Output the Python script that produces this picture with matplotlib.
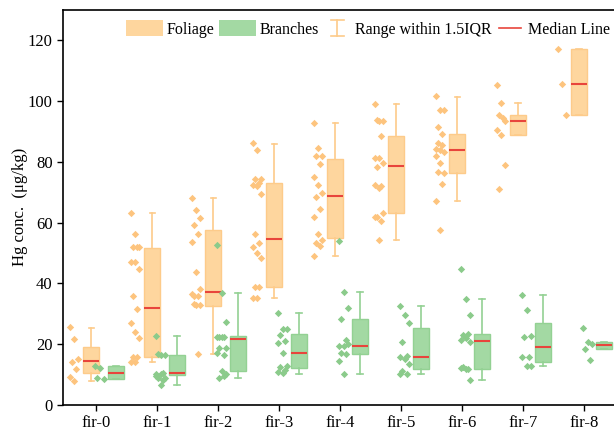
"""
Hg concentration in fir foliage and branches, grouped by tree class.
Box = IQR, whiskers = range within 1.5 IQR, red line = median,
raw points jittered to the left of each box.
"""

import matplotlib
matplotlib.use("Agg")
import matplotlib.pyplot as plt
from matplotlib.patches import Patch
from matplotlib.lines import Line2D
from matplotlib.legend_handler import HandlerBase

plt.rcParams["font.family"] = ["Liberation Serif", "DejaVu Serif"]

groups = ["fir-0", "fir-1", "fir-2", "fir-3", "fir-4",
          "fir-5", "fir-6", "fir-7", "fir-8"]

# box stats (ug/kg)
fol_q1 = [10.3, 15.6, 32.6, 38.6, 54.8, 63.0, 76.4, 88.9, 95.3]
fol_med = [14.4, 31.8, 37.0, 54.5, 68.9, 78.5, 83.8, 93.4, 105.5]
fol_q3 = [18.9, 51.5, 57.6, 72.9, 80.8, 88.4, 89.1, 95.5, 117.0]
fol_lo = [7.8, 14.0, 16.7, 35.0, 49.1, 54.2, 67.2, 88.9, 95.3]
fol_hi = [25.4, 63.1, 68.0, 86.0, 92.9, 99.0, 101.4, 99.4, 117.0]

br_q1 = [8.4, 9.9, 11.1, 12.0, 16.6, 11.7, 11.9, 14.0, 18.4]
br_med = [10.5, 10.3, 21.5, 17.1, 19.3, 15.6, 21.1, 18.9, 19.5]
br_q3 = [12.7, 16.2, 22.7, 23.2, 28.2, 25.3, 23.2, 26.8, 20.6]
br_lo = [8.4, 6.5, 8.7, 10.0, 10.1, 10.1, 8.1, 12.7, 18.4]
br_hi = [12.7, 22.7, 36.7, 30.1, 37.0, 32.6, 34.7, 36.0, 20.6]

# individual samples
fol_pts = [
    [25.7, 21.5, 15.1, 14.0, 11.8, 9.2, 7.9],
    [63.3, 56.2, 52.0, 52.0, 51.8, 47.0, 47.0, 44.6, 35.8, 31.5, 26.8,
     24.1, 22.1, 15.8, 15.8, 14.1, 14.2],
    [68.2, 64.1, 61.6, 59.2, 56.2, 53.7, 43.6, 38.0, 35.9, 35.9, 36.4,
     32.9, 32.9, 33.1, 16.7],
    [86.3, 83.8, 74.5, 74.2, 72.9, 72.5, 72.0, 69.4, 56.1, 53.3, 52.0,
     49.8, 48.2, 38.6, 38.6, 35.0, 35.0],
    [92.9, 84.7, 81.9, 81.9, 79.4, 75.1, 72.3, 69.6, 68.5, 64.3, 61.9,
     56.1, 54.2, 53.1, 52.2, 49.1],
    [99.0, 93.4, 93.4, 93.9, 88.4, 81.4, 81.4, 79.5, 78.4, 72.0, 72.5,
     71.4, 63.2, 61.9, 60.6, 61.9, 54.2],
    [101.6, 97.0, 97.0, 91.3, 89.1, 84.3, 83.8, 83.2, 86.3, 85.5, 81.9,
     79.5, 76.2, 76.5, 72.6, 67.2, 57.5],
    [105.3, 99.4, 93.5, 95.3, 94.4, 90.6, 88.9, 78.8, 70.9],
    [117.0, 105.5, 95.3],
]
br_pts = [
    [12.7, 12.0, 8.5, 8.9],
    [22.7, 16.2, 16.2, 16.8, 10.3, 10.1, 10.1, 8.9, 8.9, 8.1, 9.6, 6.5],
    [52.6, 36.7, 27.1, 22.2, 22.2, 22.4, 22.4, 18.8, 18.8, 16.2, 16.9,
     11.2, 10.1, 8.7, 9.5],
    [30.1, 25.0, 24.8, 22.9, 21.1, 20.2, 17.1, 12.7, 12.5, 11.4, 10.8, 10.3],
    [54.0, 37.2, 31.7, 28.1, 21.3, 19.3, 19.3, 19.9, 16.9, 16.7, 14.5, 10.1],
    [32.6, 29.7, 27.0, 20.6, 16.0, 15.6, 14.9, 13.3, 11.1, 10.1, 10.1],
    [44.6, 34.7, 29.5, 22.9, 23.2, 21.3, 21.8, 20.5, 12.5, 11.9, 12.2,
     11.9, 8.1],
    [36.0, 31.2, 22.6, 22.2, 15.8, 15.6, 12.7, 12.7],
    [25.2, 20.6, 20.0, 18.5, 14.6],
]

FOL_FILL = "#FED69E"
FOL_EDGE = "#FDCB8A"
FOL_DOT = "#FDC47E"
BR_FILL = "#A3D9A3"
BR_EDGE = "#93D193"
BR_DOT = "#8BCB8B"
MED_RED = "#E8453C"

JITTER = [-0.07, 0.0, 0.07, -0.035, 0.035]


class RangeHandler(HandlerBase):
    """Vertical 'I' symbol for the whisker entry."""
    def create_artists(self, legend, orig_handle, xdescent, ydescent,
                       width, height, fontsize, trans):
        cx = width / 2 - xdescent
        y0, y1 = -ydescent, height - ydescent
        cap = 4.5
        kw = dict(color=orig_handle.get_color(), lw=1.2, transform=trans)
        return [Line2D([cx, cx], [y0, y1], **kw),
                Line2D([cx - cap, cx + cap], [y0, y0], **kw),
                Line2D([cx - cap, cx + cap], [y1, y1], **kw)]


class ShortLineHandler(HandlerBase):
    def create_artists(self, legend, orig_handle, xdescent, ydescent,
                       width, height, fontsize, trans):
        cy = height / 2 - ydescent
        half = width * 0.38
        cx = width / 2 - xdescent
        return [Line2D([cx - half, cx + half], [cy, cy],
                       color=orig_handle.get_color(), lw=1.2, transform=trans)]


def stats(q1, med, q3, lo, hi):
    return [dict(q1=a, med=b, q3=c, whislo=d, whishi=e, fliers=[])
            for a, b, c, d, e in zip(q1, med, q3, lo, hi)]


def draw_set(ax, st, pos, fill, edge, width=0.27):
    ax.bxp(st, positions=pos, widths=width, patch_artist=True,
           showfliers=False, capwidths=width * 0.33,
           boxprops=dict(facecolor=fill, edgecolor=edge, lw=1.0),
           whiskerprops=dict(color=edge, lw=1.2),
           capprops=dict(color=edge, lw=1.2),
           medianprops=dict(color=MED_RED, lw=1.5))


def draw_points(ax, pts, center, color):
    for i, vals in enumerate(pts):
        xs = [i + center + JITTER[k % len(JITTER)] for k in range(len(vals))]
        ax.scatter(xs, vals, s=14, marker="D", color=color, lw=0, zorder=3)


fig = plt.figure(figsize=(6.14, 4.33), dpi=100)
ax = fig.add_axes([0.1026, 0.0654, 0.908, 0.9115])

x = list(range(len(groups)))
draw_set(ax, stats(fol_q1, fol_med, fol_q3, fol_lo, fol_hi),
         [i - 0.077 for i in x], FOL_FILL, FOL_EDGE)
draw_set(ax, stats(br_q1, br_med, br_q3, br_lo, br_hi),
         [i + 0.33 for i in x], BR_FILL, BR_EDGE)
draw_points(ax, fol_pts, -0.36, FOL_DOT)
draw_points(ax, br_pts, 0.06, BR_DOT)

ax.set_xlim(-0.54, 8.6)
ax.set_ylim(0, 130)
ax.set_xticks(x)
ax.set_xticklabels(groups, fontsize=12)
ax.set_yticks(range(0, 121, 20))
ax.tick_params(axis="y", labelsize=12, direction="out", length=4, width=1)
ax.tick_params(axis="x", direction="out", length=4, width=1)
for s in ax.spines.values():
    s.set_linewidth(1.2)
ax.set_ylabel("Hg conc.  (\u03bcg/kg)", fontsize=12, labelpad=0)

# legend split in two so the patch entries can have wider handles
row_y = 1 - 29 / 433
common = dict(frameon=False, fontsize=11.5, loc="center left",
              borderpad=0, borderaxespad=0, handleheight=1.1)

leg_a = fig.legend([Patch(facecolor=FOL_FILL, edgecolor="none"),
                    Patch(facecolor=BR_FILL, edgecolor="none")],
                   ["Foliage", "Branches"], ncol=2,
                   bbox_to_anchor=(126 / 614, row_y),
                   handlelength=2.3, handletextpad=0.25, columnspacing=0.3,
                   **common)

rng_handle = Line2D([], [], color=FOL_EDGE)
med_handle = Line2D([], [], color=MED_RED)
leg_b = fig.legend([rng_handle, med_handle],
                   ["Range within 1.5IQR", "Median Line"], ncol=2,
                   bbox_to_anchor=(323 / 614, row_y),
                   handlelength=1.8, handletextpad=0.2, columnspacing=0.25,
                   handler_map={rng_handle: RangeHandler(),
                                med_handle: ShortLineHandler()},
                   **common)

fig.savefig("out.png", dpi=100)
